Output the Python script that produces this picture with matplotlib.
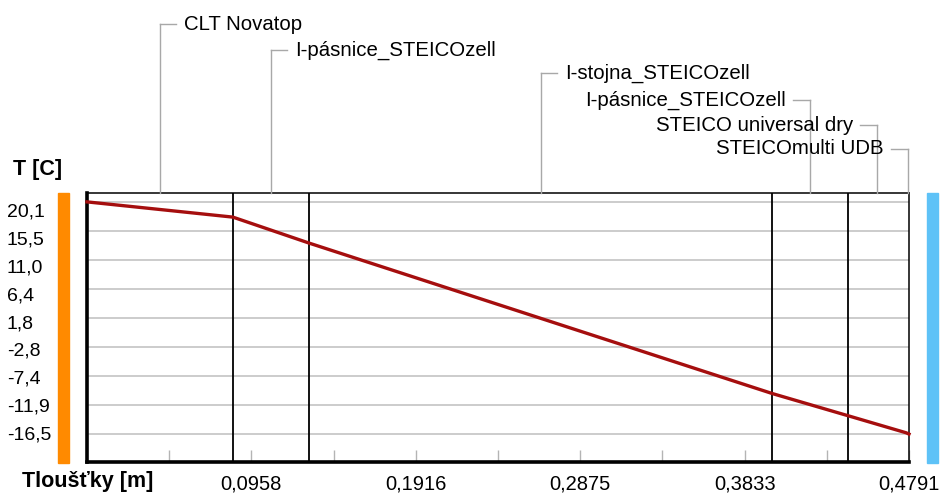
import matplotlib
matplotlib.use("Agg")
import matplotlib.pyplot as plt
from matplotlib.lines import Line2D
from matplotlib.patches import Rectangle

plt.rcParams['font.family'] = ['Liberation Sans', 'DejaVu Sans']

## vrstvy konstrukce od interieru k exterieru
layer_names = ["CLT Novatop", "I-pásnice_STEICOzell", "I-stojna_STEICOzell",
               "I-pásnice_STEICOzell", "STEICO universal dry", "STEICOmulti UDB"]
layer_edges = [0.0, 0.0850, 0.1295, 0.3993, 0.4435, 0.4775, 0.4791]
## teplota na rozhrani vrstev [C]
temps = [20.1, 17.7, 13.6, -10.1, -13.6, -16.3, -16.5]

y_ticks = [20.1, 15.5, 11.0, 6.4, 1.8, -2.8, -7.4, -11.9, -16.5]
y_labels = ["20,1", "15,5", "11,0", "6,4", "1,8", "-2,8", "-7,4", "-11,9", "-16,5"]
x_ticks = [0.0479, 0.0958, 0.1437, 0.1916, 0.2396, 0.2875, 0.3354, 0.3833, 0.4312, 0.4791]
x_labels = ["", "0,0958", "", "0,1916", "", "0,2875", "", "0,3833", "", "0,4791"]

W, H = 940, 495
fig = plt.figure(figsize=(W/100, H/100), dpi=100)
ax = fig.add_axes([87/W, 1-462/H, 822/W, 269/H])

ax.set_xlim(0, 0.4791)
ax.set_ylim(-20.9, 21.5)

ax.set_yticks(y_ticks)
ax.yaxis.grid(True, color="#c8c8c8", lw=1.3)
ax.tick_params(axis="y", length=0, labelleft=False)

ax.set_xticks(x_ticks)
ax.set_xticklabels(x_labels, fontsize=14.5)
ax.tick_params(axis="x", direction="in", length=9, width=1, color="#b4b4b4", pad=9)

# posledni rozhrani splyva s okrajem grafu
for e in layer_edges[1:-2]:
    ax.axvline(e, color="black", lw=1.3, zorder=3)

ax.plot(layer_edges, temps, color="#a50e0e", lw=2.4, zorder=4, clip_on=False)

for side in ["left", "bottom"]:
    ax.spines[side].set_linewidth(2.6)
for side in ["top", "right"]:
    ax.spines[side].set_linewidth(1.1)

# y popisky ve vlastnim sloupci
for i, lab in enumerate(y_labels):
    fig.text(7/W, 1-(212+27.9*i)/H, lab, fontsize=14, va="center", ha="left")

fig.text(13/W, 1-169/H, "T [C]", fontsize=15.5, fontweight="bold", va="center")
fig.text(22/W, 1-481/H, "Tloušťky [m]", fontsize=15.5, fontweight="bold", va="center")

# barevne pruhy interier / exterier
fig.add_artist(Rectangle((58/W, 1-463/H), 11/W, 270/H, transform=fig.transFigure,
                         color="#ff8a00"))
fig.add_artist(Rectangle((927/W, 1-463/H), 11/W, 270/H, transform=fig.transFigure,
                         color="#5ec2f7"))

# popisky vrstev s odkazovymi carami
label_rows = [24, 50, 73, 100, 125, 149]
top_px = 193
for i, name in enumerate(layer_names):
    xm = (layer_edges[i] + layer_edges[i+1]) / 2
    xp = ax.transData.transform((xm, 0))[0]
    yp = label_rows[i]
    fy = 1 - yp/H
    fig.add_artist(Line2D([xp/W, xp/W], [1-top_px/H, fy], transform=fig.transFigure,
                          color="#a8a8a8", lw=1))
    if i < 3:
        fig.add_artist(Line2D([xp/W, (xp+16)/W], [fy, fy], transform=fig.transFigure,
                              color="#a8a8a8", lw=1))
        fig.text((xp+24)/W, fy, name, fontsize=14.7, ha="left", va="center")
    else:
        fig.add_artist(Line2D([(xp-17)/W, xp/W], [fy, fy], transform=fig.transFigure,
                              color="#a8a8a8", lw=1))
        fig.text((xp-24)/W, fy, name, fontsize=14.7, ha="right", va="center")

plt.savefig("out.png", dpi=100)
